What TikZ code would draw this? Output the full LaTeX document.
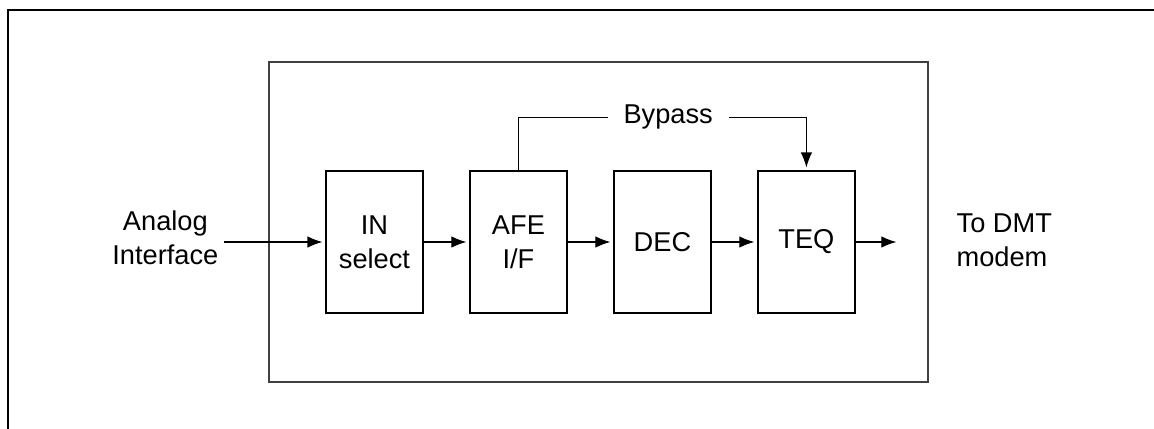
\documentclass[tikz,border=0pt]{standalone}
\usepackage{fontspec}
\setmainfont{Liberation Sans}
\usetikzlibrary{positioning,arrows.meta}

\begin{document}
\begin{tikzpicture}[x=0.02cm,y=-0.02cm,>={Latex[length=8.5pt,width=6.5pt]},
    every node/.style={on grid,node distance=2.88cm,font=\fontsize{15.5pt}{19.5pt}\selectfont},
    block/.style={draw,line width=1.1pt,minimum width=1.94cm,minimum height=2.84cm,align=center,inner sep=0pt},
    link/.style={->,line width=0.6pt,shorten >=1.5pt}]
    \useasboundingbox (0,0) rectangle (1154,429);
    % frames
    \draw[line width=1.7pt] (8,429) -- (8,10) -- (1154,10);
    \draw[line width=0.85pt,black!75] (269,62) rectangle (928,382);
    % blocks
    \node[block] (IN) at (374.5,242) {IN\\select};
    \node[block,right of=IN] (AFE) {AFE\\I/F};
    \node[block,right of=AFE] (DEC) {DEC};
    \node[block,right of=DEC] (TEQ) {TEQ};
    \node[align=center,inner sep=3pt,anchor=east] (Ana) at (224,238) {Analog\\Interface};
    \node[align=left,inner sep=3pt,anchor=west] (DMT) at (951,240) {To DMT\\modem};
    \coordinate (Out) at (899,242);
    % links
    \draw[link] (Ana.east |- IN) -- (IN);
    \draw[link] (IN) -- (AFE);
    \draw[link] (AFE) -- (DEC);
    \draw[link] (DEC) -- (TEQ);
    \draw[link] (TEQ) -- (Out);
    \draw[link] (AFE.north) -- ++(0,-53) -| node[pos=0.26,fill=white,inner xsep=9pt] {Bypass} (TEQ.north);
\end{tikzpicture}
\end{document}
